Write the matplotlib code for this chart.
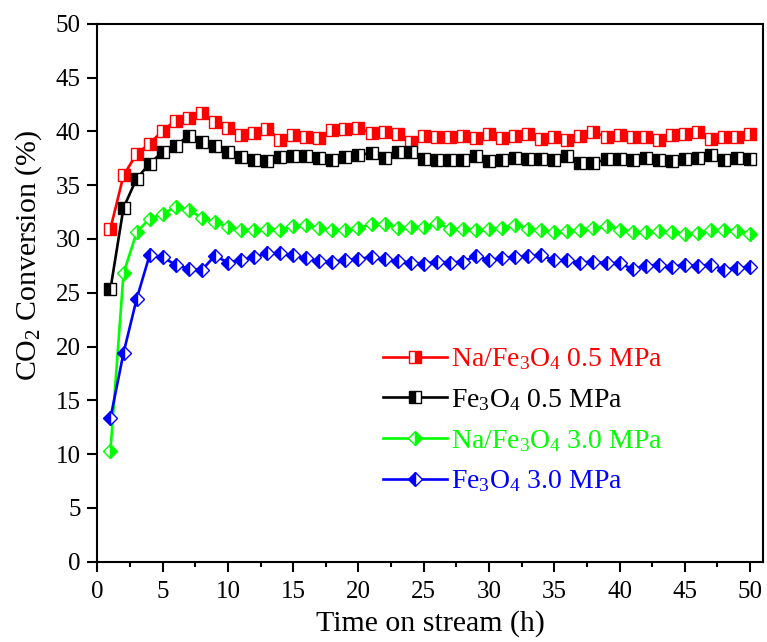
import numpy as np
from matplotlib import pyplot as plt
from matplotlib.ticker import MultipleLocator

plt.rcParams['font.family'] = ['Liberation Serif', 'DejaVu Serif']
plt.rcParams['mathtext.fontset'] = 'custom'
plt.rcParams['mathtext.rm'] = 'Liberation Serif'
plt.rcParams['mathtext.it'] = 'Liberation Serif:italic'

hours = np.arange(1, 51)

na_05 = [30.96, 35.9, 37.9, 38.86, 40.07, 41.0, 41.2, 41.7, 40.9, 40.3,
         39.7, 39.85, 40.25, 39.2, 39.7, 39.5, 39.4, 40.15, 40.25, 40.3,
         39.85, 39.95, 39.75, 39.0, 39.6, 39.5, 39.45, 39.6, 39.4, 39.75,
         39.4, 39.6, 39.75, 39.3, 39.45, 39.2, 39.6, 39.9, 39.5, 39.7,
         39.5, 39.5, 39.2, 39.7, 39.75, 39.9, 39.3, 39.45, 39.5, 39.75]
fe_05 = [25.35, 32.9, 35.6, 37.0, 38.1, 38.67, 39.6, 39.04, 38.6, 38.05,
         37.6, 37.3, 37.2, 37.6, 37.75, 37.7, 37.55, 37.3, 37.65, 37.8,
         38.0, 37.55, 38.05, 38.05, 37.46, 37.3, 37.3, 37.3, 37.7, 37.2,
         37.3, 37.5, 37.4, 37.46, 37.3, 37.7, 37.1, 37.05, 37.4, 37.46,
         37.3, 37.55, 37.3, 37.2, 37.46, 37.55, 37.8, 37.3, 37.5, 37.45]
na_30 = [10.33, 26.8, 30.6, 31.9, 32.3, 33.0, 32.7, 31.95, 31.6, 31.1,
         30.85, 30.85, 30.9, 30.85, 31.2, 31.3, 31.0, 30.8, 30.85, 31.0,
         31.4, 31.4, 31.0, 31.1, 31.1, 31.5, 30.95, 30.9, 30.85, 30.9,
         31.0, 31.3, 30.95, 30.8, 30.6, 30.7, 30.85, 31.0, 31.2, 30.85,
         30.6, 30.6, 30.7, 30.6, 30.5, 30.55, 30.85, 30.8, 30.7, 30.5]
fe_30 = [13.36, 19.4, 24.4, 28.5, 28.3, 27.6, 27.25, 27.1, 28.45, 27.8,
         28.05, 28.3, 28.65, 28.65, 28.5, 28.2, 27.95, 27.9, 28.0, 28.15,
         28.3, 28.1, 27.95, 27.8, 27.7, 27.9, 27.8, 27.9, 28.4, 28.05,
         28.2, 28.3, 28.4, 28.5, 28.0, 28.0, 27.8, 27.9, 27.75, 27.75,
         27.2, 27.5, 27.6, 27.4, 27.6, 27.5, 27.6, 27.15, 27.3, 27.4]

series = [
    (na_05, 'Na/Fe$_3$O$_4$ 0.5 MPa', '#ff0000', 's', 'right', 8.8),
    (fe_05, 'Fe$_3$O$_4$ 0.5 MPa', 'black', 's', 'left', 8.8),
    (na_30, 'Na/Fe$_3$O$_4$ 3.0 MPa', '#00ff00', 'D', 'right', 7.2),
    (fe_30, 'Fe$_3$O$_4$ 3.0 MPa', '#0000ff', 'D', 'left', 7.2),
]

fig = plt.figure(figsize=(7.67, 6.42), dpi=100)
ax = fig.add_axes([0.127, 0.125, 0.868, 0.838])

for vals, label, color, marker, fill, ms in series:
    ax.plot(hours, vals, color=color, lw=1.9, marker=marker, ms=ms,
            fillstyle=fill, markerfacecolor=color, markerfacecoloralt='white',
            markeredgecolor=color, markeredgewidth=1.0, label=label)

ax.set_xlim(0, 51)
ax.set_ylim(0, 50)
ax.xaxis.set_major_locator(MultipleLocator(5))
ax.xaxis.set_minor_locator(MultipleLocator(2.5))
ax.yaxis.set_major_locator(MultipleLocator(5))
ax.tick_params(axis='both', which='major', direction='out', length=7, width=1.5,
               labelsize=18, pad=5, top=False, right=False)
ax.tick_params(axis='x', which='major', pad=7)
ax.tick_params(axis='x', which='minor', direction='out', length=3.5, width=1.5)
for sp in ax.spines.values():
    sp.set_linewidth(1.5)

ax.set_xlabel('Time on stream (h)', fontsize=21.5, labelpad=5)
ax.set_ylabel('CO$_2$ Conversion (%)', fontsize=21.5)
ax.yaxis.set_label_coords(-0.08, 0.57)

leg = ax.legend(loc='upper left', bbox_to_anchor=(0.429, 0.40), frameon=False,
                fontsize=20, numpoints=1, handlelength=2.3, handletextpad=0.15,
                labelspacing=0.53, borderpad=0, borderaxespad=0,
                labelcolor='linecolor')

fig.savefig('out.png', dpi=100)
